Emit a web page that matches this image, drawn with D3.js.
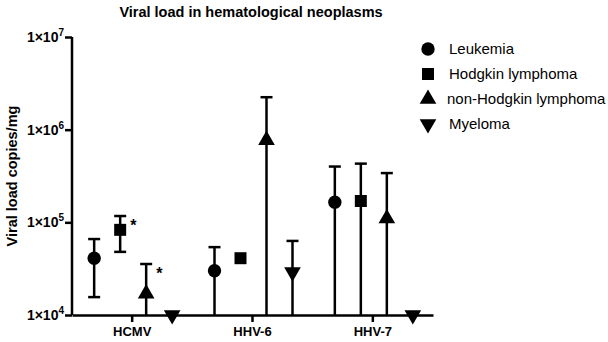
<!DOCTYPE html>
<html>
<head>
<meta charset="utf-8">
<script src="https://cdn.jsdelivr.net/npm/d3@7"></script>
<style>
  body { margin: 0; background: #fff; }
  text { font-family: "Liberation Sans", Arial, sans-serif; fill: #000; }
</style>
</head>
<body>
<script>
// categories and groups
var viruses = ["HCMV", "HHV-6", "HHV-7"];
var groups = ["Leukemia", "Hodgkin lymphoma", "non-Hodgkin lymphoma", "Myeloma"];
var shapes = ["circle", "square", "triangle", "down"];

// mean values (copies/mg), one array per group, in order of viruses
var leukemia = [41000, 30000, 165000];
var hodgkin = [83000, 41000, 170000];
var nonHodgkin = [17000, 770000, 110000];
var myeloma = [10000, 29000, 10000];

// upper / lower error bounds (null = no bar / runs below axis)
var leukemiaHi = [66000, 54000, 400000];
var leukemiaLo = [15600, null, null];
var hodgkinHi = [117000, null, 430000];
var hodgkinLo = [48000, null, null];
var nonHodgkinHi = [35500, 2240000, 340000];
var nonHodgkinLo = [null, null, null];
var myelomaHi = [null, 63000, null];
var myelomaLo = [null, null, null];

var yTicks = [1e4, 1e5, 1e6, 1e7];
var yTickLabels = ["1×10", "1×10", "1×10", "1×10"];
var yTickExp = ["4", "5", "6", "7"];
// significance marks: [virus index, group index]
var stars = [[0, 1], [0, 2]];

var values = [leukemia, hodgkin, nonHodgkin, myeloma];
var highs = [leukemiaHi, hodgkinHi, nonHodgkinHi, myelomaHi];
var lows = [leukemiaLo, hodgkinLo, nonHodgkinLo, myelomaLo];

var width = 608, height = 342;
var svg = d3.select("body").append("svg")
  .attr("width", width).attr("height", height);

var x = d3.scaleBand().domain(viruses).range([72, 433]);
var xin = d3.scalePoint().domain(groups).range([-38, 40]);
var y = d3.scaleLog().domain([1e4, 1e7]).range([315, 37]).clamp(true);

// title
svg.append("text")
  .attr("x", 251).attr("y", 17)
  .attr("text-anchor", "middle")
  .style("font-weight", "bold").style("font-size", "14.5px")
  .text("Viral load in hematological neoplasms");

// y axis title
svg.append("text")
  .attr("transform", "translate(17,176) rotate(-90)")
  .attr("text-anchor", "middle")
  .style("font-weight", "bold").style("font-size", "14.5px")
  .text("Viral load copies/mg");

// y axis
var yAxis = svg.append("g").attr("transform", "translate(72,0)")
  .call(d3.axisLeft(y).tickValues(yTicks).tickSize(7).tickFormat(""));
yAxis.selectAll("path, line").attr("stroke", "#000").attr("stroke-width", 2.5);
yAxis.select(".domain").attr("d", "M0," + y(1e7) + "V" + y(1e4));

yTicks.forEach(function (t, i) {
  var tx = svg.append("text")
    .attr("x", 64).attr("y", y(t) + 5)
    .attr("text-anchor", "end")
    .style("font-weight", "bold").style("font-size", "14px");
  tx.append("tspan").text(yTickLabels[i]);
  tx.append("tspan").attr("dy", -6).style("font-size", "10px").text(yTickExp[i]);
});

// x axis
var xAxis = svg.append("g").attr("transform", "translate(0,315)")
  .call(d3.axisBottom(x).tickSize(7).tickSizeOuter(0));
xAxis.selectAll("path, line").attr("stroke", "#000").attr("stroke-width", 2.5);
xAxis.selectAll("text")
  .attr("dy", "0.85em")
  .style("font-weight", "bold").style("font-size", "13px")
  .style("font-family", "'Liberation Sans', Arial, sans-serif");

function symbolPath(s) {
  if (s === "circle") return d3.symbol(d3.symbolCircle, 140)();
  if (s === "square") return d3.symbol(d3.symbolSquare, 144)();
  return d3.symbol(d3.symbolTriangle, 120)();
}

// error bars and points
groups.forEach(function (g, gi) {
  viruses.forEach(function (v, vi) {
    var cx = x(v) + x.bandwidth() / 2 + xin(g);
    var val = values[gi][vi];
    var hi = highs[gi][vi];
    var lo = lows[gi][vi];
    if (hi !== null) {
      var yLo = lo === null ? y.range()[0] : y(lo);
      svg.append("line")
        .attr("x1", cx).attr("x2", cx)
        .attr("y1", y(hi)).attr("y2", yLo)
        .attr("stroke", "#000").attr("stroke-width", 2.5);
      svg.append("line")
        .attr("x1", cx - 6).attr("x2", cx + 6)
        .attr("y1", y(hi)).attr("y2", y(hi))
        .attr("stroke", "#000").attr("stroke-width", 2.5);
      if (lo !== null) {
        svg.append("line")
          .attr("x1", cx - 6).attr("x2", cx + 6)
          .attr("y1", y(lo)).attr("y2", y(lo))
          .attr("stroke", "#000").attr("stroke-width", 2.5);
      }
    }
    svg.append("path")
      .attr("d", symbolPath(shapes[gi]))
      .attr("transform", "translate(" + cx + "," + y(val) + ")" +
        (shapes[gi] === "down" ? " rotate(180)" : ""))
      .attr("fill", "#000");
  });
});

// asterisks
stars.forEach(function (s) {
  var cx = x(viruses[s[0]]) + x.bandwidth() / 2 + xin(groups[s[1]]);
  var top = highs[s[1]][s[0]];
  svg.append("text")
    .attr("x", cx + 10).attr("y", y(top) + 15)
    .style("font-weight", "bold").style("font-size", "16px")
    .text("*");
});

// legend
groups.forEach(function (g, i) {
  var ly = 49 + i * 25;
  svg.append("path")
    .attr("d", symbolPath(shapes[i]))
    .attr("transform", "translate(428," + ly + ")" + (shapes[i] === "down" ? " rotate(180)" : ""))
    .attr("fill", "#000");
  svg.append("text")
    .attr("x", i === 2 ? 447 : 449).attr("y", ly + 5)
    .style("font-size", "15px")
    .text(g);
});
</script>
</body>
</html>
